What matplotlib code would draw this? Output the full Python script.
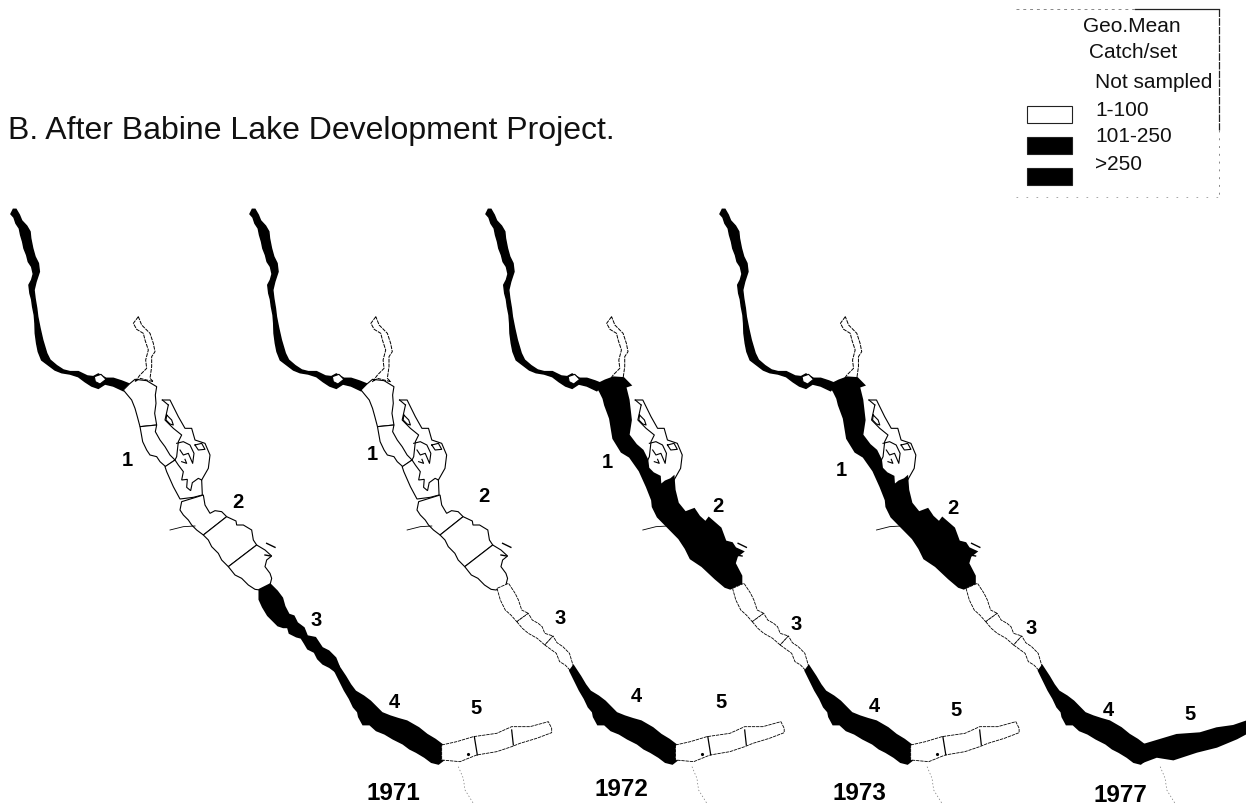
import numpy as np
import matplotlib
matplotlib.use('Agg')
import matplotlib.pyplot as plt
from matplotlib.patches import Polygon, Rectangle

plt.rcParams['font.family'] = ['Liberation Sans', 'DejaVu Sans']


def crop(points, x0, y0):
    return np.array(points, dtype=float) / 3 + [x0, y0]


years = ['1971', '1972', '1973', '1977']
x_shift = [0, 239, 475, 709]
x_scale = [1, 0.988, 0.986, 0.984]
year_pos = [(393, 793), (621, 790), (859, 794), (1120, 795)]
section_names = ['1', '2', '3', '4', '5']
section_pos = [
    [(127, 461), (238, 503), (316, 620), (394, 703), (476, 708)],
    [(372, 455), (484, 497), (560, 618), (636, 697), (721, 702)],
    [(607, 462), (718, 507), (796, 624), (874, 706), (956, 711)],
    [(841, 471), (953, 509), (1031, 628), (1108, 711), (1190, 715)],
]

river = crop([(40, 28), (33, 42), (42, 52), (48, 70), (58, 85), (62, 105), (68, 125), (72, 145),
              (80, 165), (85, 185), (95, 200), (100, 222), (95, 240), (87, 255), (90, 280),
              (95, 298), (98, 320), (103, 345), (105, 370), (106, 400), (110, 430), (115, 455),
              (125, 480), (145, 495), (165, 510), (185, 518), (210, 522), (235, 530), (255, 545),
              (275, 558), (295, 565), (315, 552), (340, 558), (370, 572), (388, 552), (365, 543),
              (340, 535), (318, 535), (295, 522), (280, 530), (262, 528), (235, 515), (210, 515),
              (190, 510), (170, 497), (150, 480), (140, 460), (128, 420), (120, 385), (113, 350),
              (110, 325), (105, 295), (102, 270), (108, 245), (118, 215), (115, 190), (105, 170),
              (98, 145), (92, 115), (90, 95), (80, 78), (65, 62), (58, 45), (48, 28)], 0, 200)
river_hole = crop([(283, 530), (303, 523), (318, 538), (300, 552), (286, 545)], 0, 200)

# main lake basins, head to narrows
basin_a = crop([(370, 570), (388, 552), (405, 538), (440, 542), (470, 560), (466, 585), (468, 610),
                (464, 640), (470, 675), (420, 680), (412, 650), (405, 625), (395, 600)], 0, 200)
basin_b = crop([(420, 680), (470, 675), (466, 695), (480, 720), (495, 740), (510, 765), (525, 780),
                (497, 800), (480, 785), (470, 770), (450, 765), (440, 750), (428, 725)], 0, 200)
basin_c = crop([(45, 200), (75, 180), (85, 195), (100, 215), (95, 240), (112, 238), (110, 262),
                (122, 272), (127, 248), (145, 235), (155, 240), (157, 285), (130, 292), (90, 297),
                (70, 260), (50, 215)], 150, 400)
basin_d = crop([(95, 155), (160, 135), (165, 165), (180, 190), (195, 182), (215, 185), (230, 200),
                (160, 255), (140, 240), (125, 225), (115, 210), (100, 195), (90, 180)], 150, 450)
basin_e = crop([(160, 255), (230, 200), (258, 213), (260, 225), (280, 225), (305, 240), (310, 270),
                (320, 285), (235, 350), (215, 330), (205, 310), (185, 290), (175, 270)], 150, 450)
basin_f = crop([(235, 350), (320, 285), (345, 300), (365, 318), (350, 330), (345, 350), (360, 370),
                (365, 385), (360, 405), (330, 420), (315, 418), (295, 405), (275, 385), (255, 375)], 150, 450)
white_basins = [basin_a, basin_b, basin_c, basin_d, basin_e, basin_f]

# the same basins as one dark shape, from the 1973 panel
dark_lake = crop([(135, 122), (160, 113), (190, 115), (210, 135), (195, 140), (205, 180), (212, 240),
                  (205, 285), (228, 315), (248, 332), (262, 360), (265, 385), (280, 400), (300, 410),
                  (302, 438), (318, 425), (335, 418), (342, 412), (345, 450), (355, 490), (378, 518),
                  (405, 508), (420, 530), (440, 548), (450, 535), (485, 565), (500, 605), (520, 610),
                  (530, 625), (552, 635), (535, 648), (528, 670), (548, 708), (548, 730), (515, 745),
                  (500, 740), (470, 715), (430, 678), (395, 655), (380, 625), (360, 595), (330, 565),
                  (295, 530), (280, 500), (278, 480), (262, 440), (240, 392), (210, 350), (185, 335),
                  (160, 295), (150, 235), (135, 195), (130, 175), (120, 155), (108, 135)], 87, 340)

# narrows, wide black version (1971) and thin white version
narrows_black = crop([(330, 420), (330, 448), (340, 470), (355, 495), (370, 510), (385, 525), (400, 530),
                      (415, 530), (420, 548), (440, 558), (455, 562), (465, 578), (475, 595), (495, 605),
                      (505, 625), (520, 640), (540, 650), (556, 662), (565, 650), (555, 625), (535, 605),
                      (515, 595), (495, 565), (470, 560), (460, 535), (440, 520), (430, 500), (415, 495),
                      (402, 470), (395, 445), (380, 425), (360, 405)], 150, 450)
narrows_white_a = crop([(333, 415), (343, 450), (358, 480), (375, 495), (393, 515), (428, 490), (408, 480),
                        (398, 450), (388, 430), (368, 400)], 150, 450)
narrows_white_b = crop([(393, 515), (410, 535), (428, 550), (455, 565), (478, 585), (503, 558), (478, 550),
                        (470, 530), (458, 520), (440, 510), (428, 490)], 150, 450)
narrows_white_c = crop([(478, 585), (513, 610), (523, 635), (540, 645), (556, 662), (565, 650), (553, 610),
                        (533, 590), (515, 578), (503, 558)], 150, 450)

section4 = crop([(556, 662), (570, 690), (585, 720), (600, 745), (612, 770), (625, 785), (628, 800),
                 (640, 822), (660, 822), (680, 840), (705, 850), (730, 865), (760, 880), (780, 895),
                 (800, 905), (825, 920), (845, 935), (865, 940), (878, 930), (875, 885), (855, 870),
                 (830, 855), (805, 835), (770, 815), (745, 808), (720, 800), (695, 790), (680, 775),
                 (660, 755), (640, 740), (615, 725), (600, 705), (585, 680), (565, 650)], 150, 450)
arm_white = crop([(875, 885), (920, 875), (970, 860), (1040, 850), (1085, 830), (1140, 830),
                  (1195, 815), (1205, 835), (1205, 848), (1160, 865), (1110, 880), (1085, 890),
                  (1040, 905), (980, 915), (930, 935), (875, 930)], 150, 450)
arm_dividers = [crop([(973, 860), (982, 915)], 150, 450), crop([(1085, 840), (1090, 885)], 150, 450)]
arm_dot = crop([(955, 912)], 150, 450)
arm_black_1977 = crop([(430, 555), (480, 540), (530, 525), (600, 520), (650, 505), (700, 498),
                       (738, 485), (760, 480), (760, 512), (738, 520), (710, 535), (650, 560),
                       (590, 575), (520, 598), (470, 590), (430, 605)], 1000, 560)

outlet = crop([(925, 950), (940, 985), (945, 1020), (970, 1060)], 150, 450)
west_creek = crop([(60, 240), (100, 230), (135, 228)], 150, 450)
rocks = [crop([(350, 280), (375, 292)], 150, 450), crop([(345, 315), (362, 318)], 150, 450)]

north_arm = crop([(40, 20), (25, 40), (35, 58), (55, 70), (60, 90), (70, 120), (62, 150),
                  (65, 175), (45, 195), (30, 215), (45, 205), (85, 215), (75, 205), (80, 170),
                  (80, 140), (90, 125), (85, 100), (75, 70), (50, 45), (40, 20)], 125, 310)
east_arm = crop([(55, 15), (45, 60), (70, 85), (95, 105), (85, 125), (80, 170), (75, 180)], 150, 400)
east_shore = crop([(37, 0), (60, 0), (85, 50), (105, 85), (125, 85), (135, 120), (165, 130),
                   (180, 165), (175, 205), (155, 240)], 150, 400)
east_top = crop([(37, 0), (55, 15)], 150, 400)
inlets = [
    crop([(50, 45), (65, 60), (70, 75), (60, 72), (48, 60), (50, 45)], 150, 400),
    crop([(80, 130), (100, 125), (120, 135), (132, 160), (128, 190), (115, 160), (100, 165), (90, 150)], 150, 400),
    crop([(135, 135), (155, 130), (165, 148), (145, 150), (135, 135)], 150, 400),
    crop([(95, 185), (110, 190), (105, 178)], 150, 400),
]

# which parts are dark in each year
dark_basins = [False, False, True, True]
dark_narrows = [True, False, False, False]
dark_arm = [False, False, False, True]

legend_labels = ['Not sampled', '1-100', '101-250', '>250']
legend_y = [82, 110, 137, 165]
legend_swatch_y = [106, 137, 168]
legend_swatch_col = ['white', 'black', 'black']

fig = plt.figure(figsize=(12.46, 8.08), dpi=100)
ax = fig.add_axes([0, 0, 1, 1])
ax.set_xlim(0, 1246)
ax.set_ylim(808, 0)
ax.axis('off')

ax.text(8, 139, 'B. After Babine Lake Development Project.', fontsize=23, va='baseline', color='#111111')


def draw_map(i):
    def pts(p):
        out = np.array(p, dtype=float).copy()
        out[:, 0] = 13 + (out[:, 0] - 13) * x_scale[i] + x_shift[i]
        return out

    def poly(p, dark, lw=0.8, **kw):
        ax.add_patch(Polygon(pts(p), closed=True, fc='black' if dark else 'white', ec='black', lw=lw, zorder=3, **kw))

    def line(p, lw=0.8, **kw):
        q = pts(p)
        ax.plot(q[:, 0], q[:, 1], color='black', lw=lw, zorder=4, **kw)

    poly(river, True, 1.1)
    poly(river_hole, False, 0.8)
    line(north_arm, 0.7, linestyle=(0, (4, 1)))
    line(east_top, 0.8)
    for p in [east_arm, east_shore] + inlets:
        line(p)
    line(west_creek, 0.6)
    for p in rocks:
        line(p, 1.0)
    ax.plot(*pts(outlet).T, color='#777777', lw=0.5, linestyle=(0, (2, 3)), zorder=4)

    if dark_basins[i]:
        poly(dark_lake, True, 1.8)
    else:
        for b in white_basins:
            poly(b, False)
    if dark_narrows[i]:
        poly(narrows_black, True, 2.2)
    else:
        for b in [narrows_white_a, narrows_white_b, narrows_white_c]:
            poly(b, False, 0.6, linestyle=(0, (4, 1)))
    poly(section4, True, 2.0)
    if dark_arm[i]:
        ax.add_patch(Polygon(arm_black_1977, closed=True, fc='black', ec='black', lw=1.5, zorder=3))
    else:
        poly(arm_white, False, 0.6, linestyle=(0, (4, 1)))
        for d in arm_dividers:
            line(d, 0.9)
        ax.plot(*pts(arm_dot).T, 'k.', ms=2.5, zorder=4)

    for name, (x, y) in zip(section_names, section_pos[i]):
        ax.text(x, y, name, fontsize=14.5, fontweight='bold', ha='center', va='center', zorder=5)
    ax.text(year_pos[i][0], year_pos[i][1], years[i], fontsize=17.5, fontweight='bold', ha='center', va='center', zorder=5)


for i in range(len(years)):
    draw_map(i)

# Legend box, only partly printed in the scan
ax.plot([1135, 1219], [9, 9], color='#222222', lw=0.9)
ax.plot([1016, 1135], [9, 9], color='#888888', lw=0.7, linestyle=(0, (3, 4)))
ax.plot([1219, 1219], [9, 130], color='#222222', lw=0.9, linestyle=(0, (6, 1)))
ax.plot([1219, 1219], [130, 197], color='#888888', lw=0.7, linestyle=(0, (2, 6)))
ax.plot([1016, 1219], [197, 197], color='#999999', lw=0.6, linestyle=(0, (2, 10)))
ax.text(1083, 26, 'Geo.Mean', fontsize=15, va='center', color='#111111')
ax.text(1089, 53, 'Catch/set', fontsize=15, va='center', color='#111111')
for label, y in zip(legend_labels, legend_y):
    ax.text(1095, y, label, fontsize=15, va='center', color='#111111')
for y, col in zip(legend_swatch_y, legend_swatch_col):
    ax.add_patch(Rectangle((1027, y), 45, 17, fc=col, ec='#222222', lw=0.8))

fig.savefig('out.png', dpi=100)
